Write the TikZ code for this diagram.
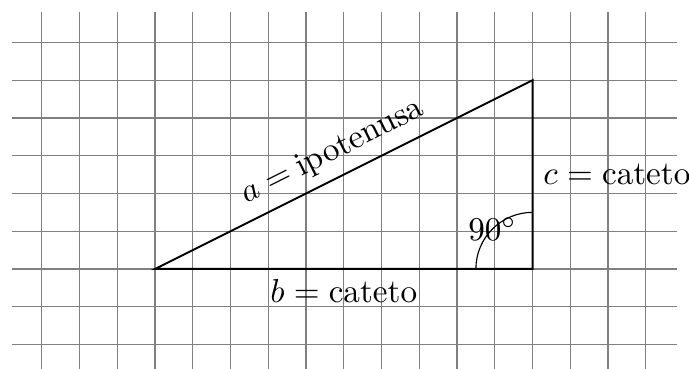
\documentclass[tikz,border=0pt]{standalone}
\usepackage{amsmath, amssymb}
\usepackage{tikz}
\usetikzlibrary{calc}

\begin{document}
\begin{tikzpicture}[
  scale=0.4,
  griglia/.style={draw=gray, line width=0.35pt},
  lato/.style={line width=0.6pt},
  etichetta/.style={inner sep=3pt}
]
\useasboundingbox (-4.106,-2.649) rectangle (14.146,7.126);
\draw[griglia, step=1] (-3.8,-2.7) grid (13.83,6.8);
% vertici del triangolo
\coordinate (B) at (0,0);
\coordinate (C) at (10,0);
\coordinate (A) at (10,5);
\draw[lato] (B) -- node[etichetta, below] (catb) {$b = \text{cateto}$}
  (C) -- node[etichetta, right] (catc) {$c = \text{cateto}$}
  (A) -- node[etichetta, midway, above, sloped] (ipa) {$a = \text{ipotenusa}$} cycle;
% angolo retto
\draw[line width=0.35pt] ($(C)+(180:1.5)$) arc[start angle=180, end angle=90, radius=1.5];
\node (retto) at ($(C)+(135:1.5)$) {$90^\circ$};
\end{tikzpicture}
\end{document}
